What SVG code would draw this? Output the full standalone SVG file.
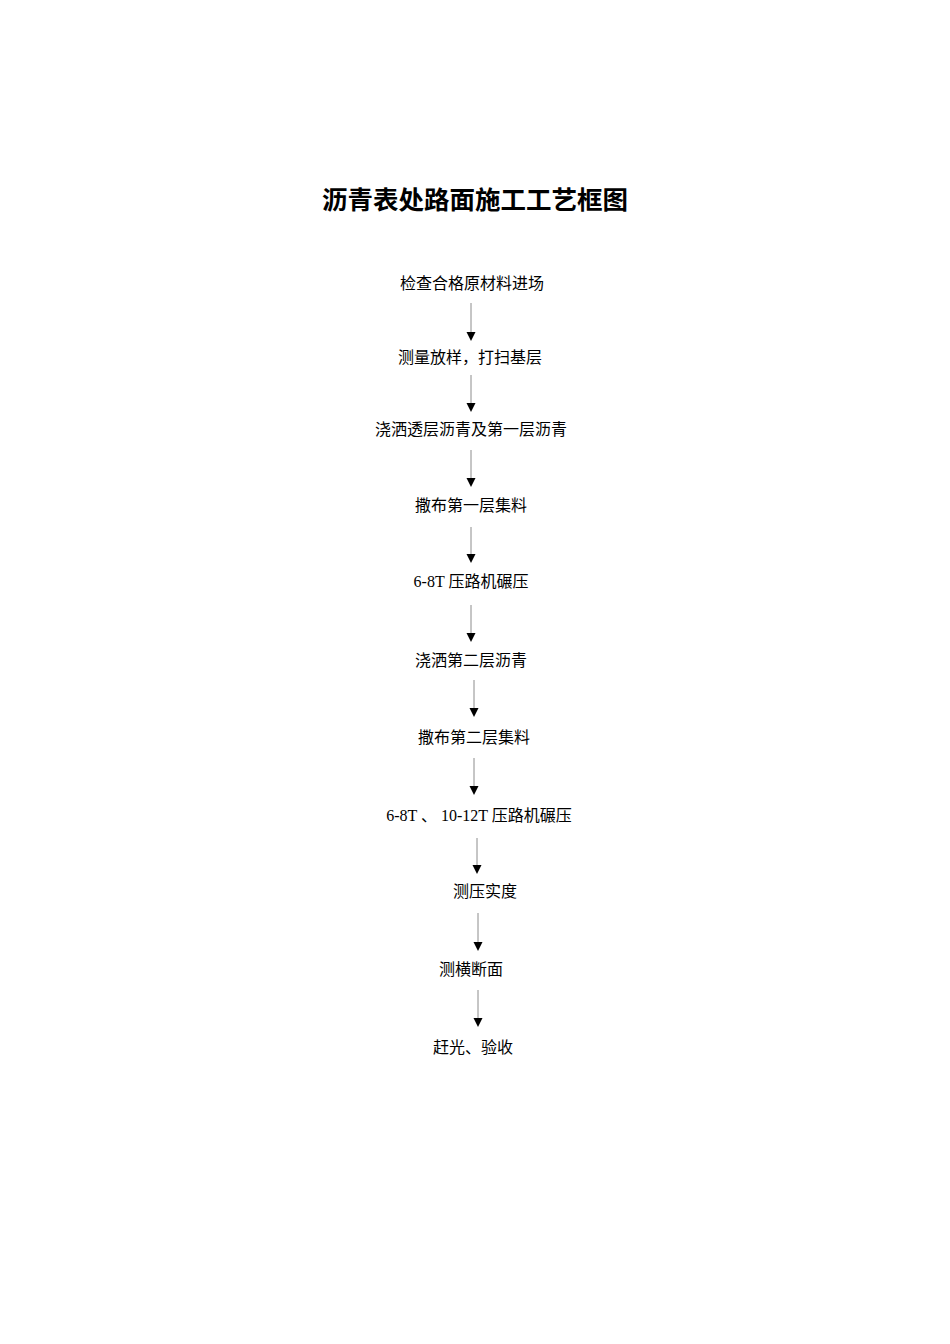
<svg xmlns="http://www.w3.org/2000/svg" width="950" height="1344" viewBox="0 0 950 1344">
<style>
.t{font-family:"Liberation Serif","Noto Sans CJK SC",serif;font-size:16px;fill:#000;text-anchor:middle}
.h{font-family:"Noto Sans CJK SC",sans-serif;font-size:25.5px;font-weight:bold;fill:#000;text-anchor:middle}
.ln{stroke:#8c8c8c;stroke-width:1;fill:none}
.ah{fill:#000}
</style>
<rect width="950" height="1344" fill="#fff"/>
<text class="h" x="475" y="209">沥青表处路面施工工艺框图</text>
<g id="n1"><text class="t" x="472" y="289">检查合格原材料进场</text></g>
<g id="n2"><text class="t" x="470" y="363">测量放样，打扫基层</text></g>
<g id="n3"><text class="t" x="471" y="435">浇洒透层沥青及第一层沥青</text></g>
<g id="n4"><text class="t" x="471" y="511">撒布第一层集料</text></g>
<g id="n5"><text class="t" x="471" y="587">6-8T 压路机碾压</text></g>
<g id="n6"><text class="t" x="471" y="666">浇洒第二层沥青</text></g>
<g id="n7"><text class="t" x="474" y="743">撒布第二层集料</text></g>
<g id="n8"><text class="t" x="479" y="821">6-8T 、 10-12T 压路机碾压</text></g>
<g id="n9"><text class="t" x="485" y="897">测压实度</text></g>
<g id="n10"><text class="t" x="471" y="975">测横断面</text></g>
<g id="n11"><text class="t" x="473" y="1053">赶光、验收</text></g>
<g id="connectors">
<line class="ln" x1="471" y1="303" x2="471" y2="333"/><polygon class="ah" points="466.5,332 475.5,332 471,341"/>
<line class="ln" x1="471" y1="375" x2="471" y2="404"/><polygon class="ah" points="466.5,403 475.5,403 471,412"/>
<line class="ln" x1="471" y1="450" x2="471" y2="479"/><polygon class="ah" points="466.5,478 475.5,478 471,487"/>
<line class="ln" x1="471" y1="527" x2="471" y2="555"/><polygon class="ah" points="466.5,554 475.5,554 471,563"/>
<line class="ln" x1="471" y1="605" x2="471" y2="634"/><polygon class="ah" points="466.5,633 475.5,633 471,642"/>
<line class="ln" x1="474" y1="680" x2="474" y2="709"/><polygon class="ah" points="469.5,708 478.5,708 474,717"/>
<line class="ln" x1="474" y1="758" x2="474" y2="787"/><polygon class="ah" points="469.5,786 478.5,786 474,795"/>
<line class="ln" x1="477" y1="838" x2="477" y2="866"/><polygon class="ah" points="472.5,865 481.5,865 477,874"/>
<line class="ln" x1="478" y1="913" x2="478" y2="943"/><polygon class="ah" points="473.5,942 482.5,942 478,951"/>
<line class="ln" x1="478" y1="990" x2="478" y2="1019"/><polygon class="ah" points="473.5,1018 482.5,1018 478,1027"/>
</g>
</svg>
